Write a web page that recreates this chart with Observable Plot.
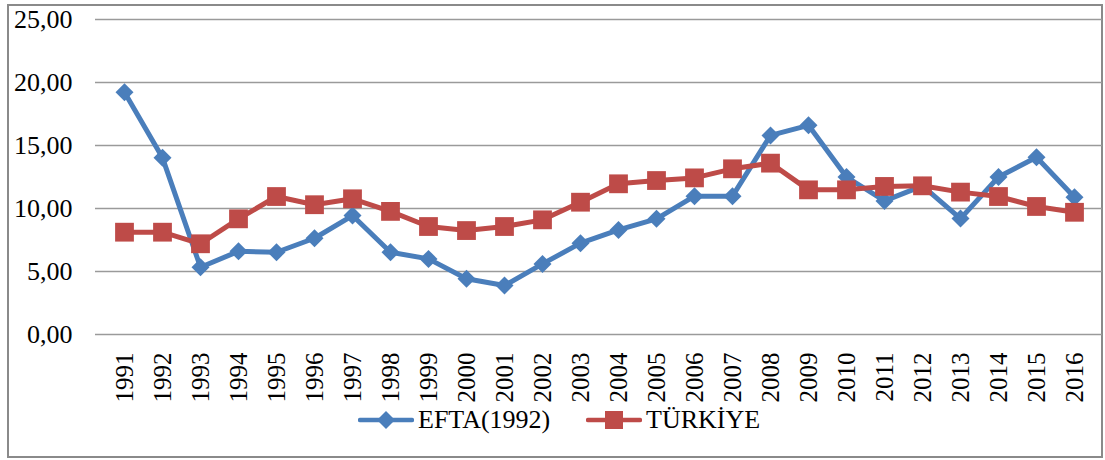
<!DOCTYPE html>
<html>
<head>
<meta charset="utf-8">
<script src="https://cdn.jsdelivr.net/npm/d3@7"></script>
<script src="https://cdn.jsdelivr.net/npm/@observablehq/plot@0.6"></script>
<style>
  html, body { margin: 0; padding: 0; background: #fff; }
  #frame { position: absolute; left: 7px; top: 4px; width: 1092px; height: 450px; border: 2px solid #8a8a8a; }
  #chart { position: absolute; left: 0; top: 0; }
  #chart svg, #chart svg text { font-family: "Liberation Serif", "Times New Roman", serif !important; }
  #legend { position: absolute; left: 0; top: 402px; width: 1105px; height: 36px;
            font-family: "Liberation Serif", "Times New Roman", serif; font-size: 26px; color: #000; }
  .item { position: absolute; top: 0; display: flex; align-items: center; height: 36px; }
  .item svg { display: block; margin-right: 4px; }
</style>
</head>
<body>
<div id="frame"></div>
<div id="chart"></div>
<div id="legend"></div>
<script>
const years = ["1991","1992","1993","1994","1995","1996","1997","1998","1999","2000","2001","2002","2003","2004","2005","2006","2007","2008","2009","2010","2011","2012","2013","2014","2015","2016"];
const efta = [19.23, 14.02, 5.34, 6.60, 6.53, 7.64, 9.44, 6.53, 6.00, 4.42, 3.89, 5.60, 7.25, 8.30, 9.18, 10.98, 10.98, 15.80, 16.60, 12.50, 10.60, 11.80, 9.20, 12.50, 14.07, 10.90];
const turkiye = [8.12, 8.12, 7.20, 9.18, 10.95, 10.30, 10.77, 9.77, 8.57, 8.25, 8.57, 9.10, 10.50, 11.96, 12.22, 12.43, 13.15, 13.60, 11.48, 11.48, 11.75, 11.80, 11.30, 10.95, 10.16, 9.70];
const seriesNames = ["EFTA(1992)", "TÜRKİYE"];
const seriesColors = ["#4a7ebb", "#be4b48"];
const yTicks = [0, 5, 10, 15, 20, 25];

const eftaData = years.map((y, i) => ({year: y, value: efta[i]}));
const trData = years.map((y, i) => ({year: y, value: turkiye[i]}));
const fmt = d => d3.format(".2f")(d).replace(".", ",");
const font = '"Liberation Serif", "Times New Roman", serif';

const chart = Plot.plot({
  width: 1105,
  height: 405,
  marginLeft: 95,
  marginRight: 3,
  marginTop: 19,
  marginBottom: 71,
  style: "font-family: 'Liberation Serif', 'Times New Roman', serif; color: #000; background: transparent; overflow: visible;",
  x: {type: "point", domain: years, padding: 0.5},
  y: {domain: [0, 25]},
  marks: [
    Plot.ruleY(yTicks, {stroke: "#9a9a9a", strokeWidth: 1.6}),
    Plot.axisY(yTicks, {tickSize: 0, tickPadding: 23, tickFormat: fmt, fontSize: 26, fill: "#000", label: null}),
    Plot.axisX({tickSize: 0, tickPadding: 18, tickRotate: -90, fontSize: 25, fill: "#000", label: null}),
    Plot.line(eftaData, {x: "year", y: "value", stroke: seriesColors[0], strokeWidth: 5, strokeLinejoin: "round"}),
    Plot.dot(eftaData, {x: "year", y: "value", symbol: "diamond2", r: 8.1, fill: seriesColors[0], stroke: null}),
    Plot.line(trData, {x: "year", y: "value", stroke: seriesColors[1], strokeWidth: 5, strokeLinejoin: "round"}),
    Plot.dot(trData, {x: "year", y: "value", symbol: "square", r: 10.6, fill: seriesColors[1], stroke: null})
  ]
});
chart.setAttribute("font-family", font);
document.getElementById("chart").appendChild(chart);

// Legend
const legend = d3.select("#legend");
const legendLeft = [358, 586];
seriesNames.forEach((name, i) => {
  const item = legend.append("div").attr("class", "item").style("left", legendLeft[i] + "px");
  const svg = item.append("svg").attr("width", 56).attr("height", 24);
  svg.append("line").attr("x1", 2).attr("x2", 54).attr("y1", 12).attr("y2", 12)
     .attr("stroke", seriesColors[i]).attr("stroke-width", 4.5).attr("stroke-linecap", "round");
  if (i === 0) {
    svg.append("path").attr("d", "M28,3L37,12L28,21L19,12Z").attr("fill", seriesColors[i]);
  } else {
    svg.append("rect").attr("x", 19).attr("y", 3).attr("width", 18).attr("height", 18).attr("fill", seriesColors[i]);
  }
  item.append("span").text(name);
});
</script>
</body>
</html>
